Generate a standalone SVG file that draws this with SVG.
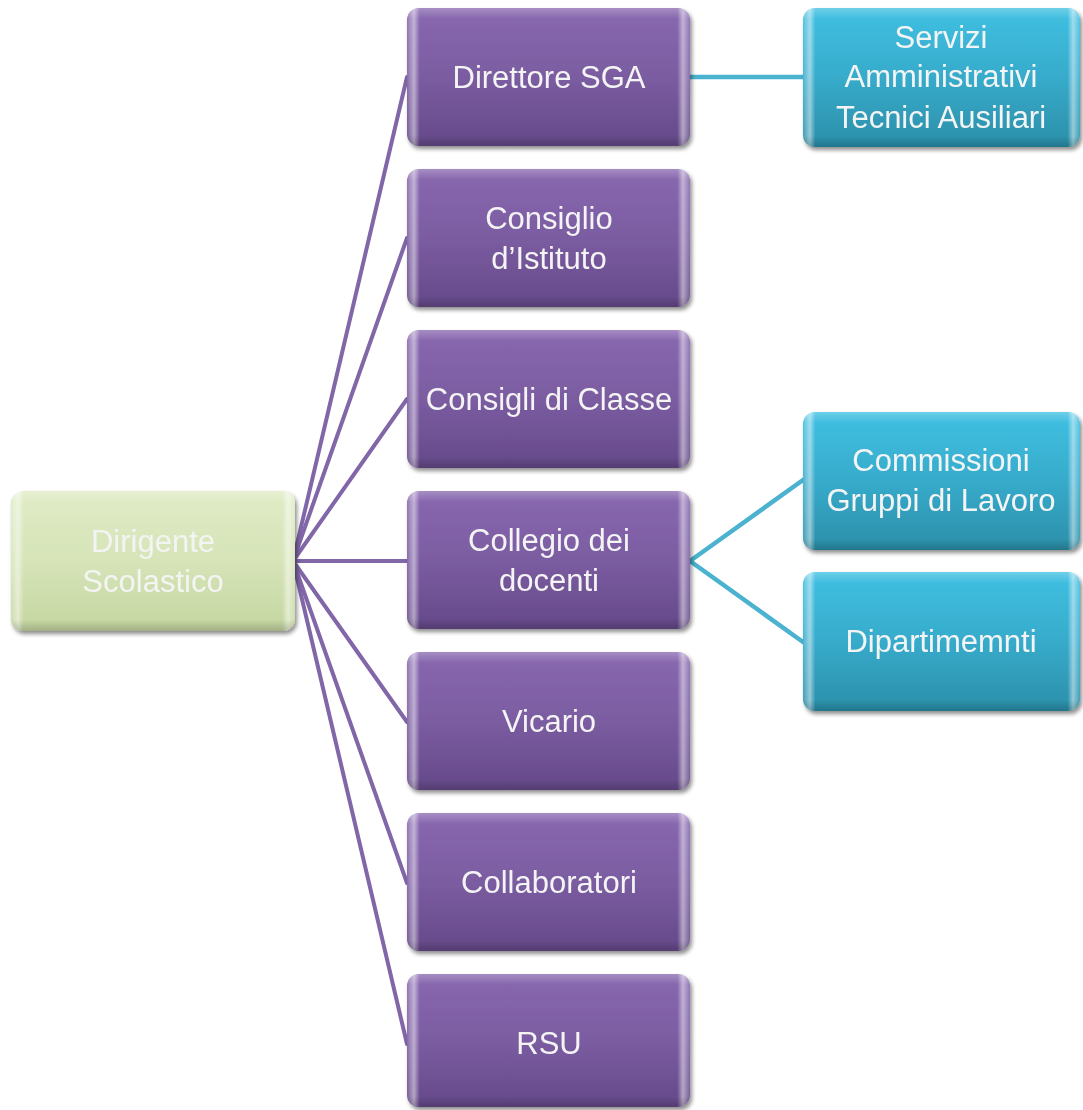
<svg xmlns="http://www.w3.org/2000/svg" width="1083" height="1110" viewBox="0 0 1083 1110">
<defs>
<linearGradient id="gPurple" x1="0" y1="0" x2="0" y2="1">
<stop offset="0" stop-color="#8968b0"/><stop offset="0.5" stop-color="#7b5ca1"/><stop offset="1" stop-color="#654989"/>
</linearGradient>
<linearGradient id="gBlue" x1="0" y1="0" x2="0" y2="1">
<stop offset="0" stop-color="#40c0e2"/><stop offset="0.5" stop-color="#37abcb"/><stop offset="1" stop-color="#2b8fa9"/>
</linearGradient>
<linearGradient id="gGreen" x1="0" y1="0" x2="0" y2="1">
<stop offset="0" stop-color="#e0ecc6"/><stop offset="0.5" stop-color="#d6e4b8"/><stop offset="1" stop-color="#c5d6a0"/>
</linearGradient>
<linearGradient id="gEdge" x1="0" y1="0" x2="1" y2="0">
<stop offset="0" stop-color="#fff" stop-opacity="0.1"/>
<stop offset="0.025" stop-color="#fff" stop-opacity="0.5"/>
<stop offset="0.045" stop-color="#fff" stop-opacity="0"/>
<stop offset="0.955" stop-color="#fff" stop-opacity="0"/>
<stop offset="0.975" stop-color="#fff" stop-opacity="0.5"/>
<stop offset="1" stop-color="#fff" stop-opacity="0.1"/>
</linearGradient>
<linearGradient id="gTop" x1="0" y1="0" x2="0" y2="1">
<stop offset="0" stop-color="#fff" stop-opacity="0.25"/>
<stop offset="0.08" stop-color="#fff" stop-opacity="0"/>
<stop offset="0.92" stop-color="#000" stop-opacity="0"/>
<stop offset="1" stop-color="#000" stop-opacity="0.18"/>
</linearGradient>
<filter id="sh" x="-10%" y="-10%" width="125%" height="130%">
<feGaussianBlur in="SourceAlpha" stdDeviation="2"/>
<feOffset dx="2" dy="3" result="b"/>
<feComponentTransfer><feFuncA type="linear" slope="0.45"/></feComponentTransfer>
<feMerge><feMergeNode/><feMergeNode in="SourceGraphic"/></feMerge>
</filter>
</defs>
<style>
.box{filter:url(#sh)}
.purple{fill:url(#gPurple)}
.blue{fill:url(#gBlue)}
.green{fill:url(#gGreen)}
.edge{fill:url(#gEdge)}
.top{fill:url(#gTop)}
.t{font-family:"Liberation Sans",Arial,sans-serif;font-size:31px;fill:#f4f4f4;text-anchor:middle}
.lp{stroke:#8166a8;stroke-width:4;fill:none;stroke-linecap:round}
.lb{stroke:#4bb3cf;stroke-width:4.5;fill:none;stroke-linecap:round}
</style>
<g id="connectors">
<line class="lp" x1="293" y1="561" x2="407" y2="77"/>
<line class="lp" x1="293" y1="561" x2="407" y2="238"/>
<line class="lp" x1="293" y1="561" x2="407" y2="399"/>
<line class="lp" x1="293" y1="561" x2="407" y2="561"/>
<line class="lp" x1="293" y1="561" x2="407" y2="722"/>
<line class="lp" x1="293" y1="561" x2="407" y2="883"/>
<line class="lp" x1="293" y1="561" x2="407" y2="1044"/>
<line class="lb" x1="690" y1="77" x2="803" y2="77"/>
<line class="lb" x1="690" y1="561" x2="803" y2="480"/>
<line class="lb" x1="690" y1="561" x2="803" y2="642"/>
</g>
<g id="n-dirigente" class="box">
<rect class="green" x="11" y="491" width="284" height="140" rx="12"/>
<rect class="edge" x="11" y="491" width="284" height="140" rx="12"/>
<rect class="top" x="11" y="491" width="284" height="140" rx="12"/>
<text class="t" x="153" y="552">Dirigente</text>
<text class="t" x="153" y="592">Scolastico</text>
</g>
<g id="n-direttore" class="box">
<rect class="purple" x="407" y="8" width="283" height="138" rx="12"/>
<rect class="edge" x="407" y="8" width="283" height="138" rx="12"/>
<rect class="top" x="407" y="8" width="283" height="138" rx="12"/>
<text class="t" x="549" y="88">Direttore SGA</text>
</g>
<g id="n-consiglio-istituto" class="box">
<rect class="purple" x="407" y="169" width="283" height="138" rx="12"/>
<rect class="edge" x="407" y="169" width="283" height="138" rx="12"/>
<rect class="top" x="407" y="169" width="283" height="138" rx="12"/>
<text class="t" x="549" y="229">Consiglio</text>
<text class="t" x="549" y="269">d’Istituto</text>
</g>
<g id="n-consigli-classe" class="box">
<rect class="purple" x="407" y="330" width="283" height="138" rx="12"/>
<rect class="edge" x="407" y="330" width="283" height="138" rx="12"/>
<rect class="top" x="407" y="330" width="283" height="138" rx="12"/>
<text class="t" x="549" y="410">Consigli di Classe</text>
</g>
<g id="n-collegio" class="box">
<rect class="purple" x="407" y="491" width="283" height="138" rx="12"/>
<rect class="edge" x="407" y="491" width="283" height="138" rx="12"/>
<rect class="top" x="407" y="491" width="283" height="138" rx="12"/>
<text class="t" x="549" y="551">Collegio dei</text>
<text class="t" x="549" y="591">docenti</text>
</g>
<g id="n-vicario" class="box">
<rect class="purple" x="407" y="652" width="283" height="138" rx="12"/>
<rect class="edge" x="407" y="652" width="283" height="138" rx="12"/>
<rect class="top" x="407" y="652" width="283" height="138" rx="12"/>
<text class="t" x="549" y="732">Vicario</text>
</g>
<g id="n-collaboratori" class="box">
<rect class="purple" x="407" y="813" width="283" height="138" rx="12"/>
<rect class="edge" x="407" y="813" width="283" height="138" rx="12"/>
<rect class="top" x="407" y="813" width="283" height="138" rx="12"/>
<text class="t" x="549" y="893">Collaboratori</text>
</g>
<g id="n-rsu" class="box">
<rect class="purple" x="407" y="974" width="283" height="133" rx="12"/>
<rect class="edge" x="407" y="974" width="283" height="133" rx="12"/>
<rect class="top" x="407" y="974" width="283" height="133" rx="12"/>
<text class="t" x="549" y="1054">RSU</text>
</g>
<g id="n-servizi" class="box">
<rect class="blue" x="803" y="8" width="277" height="139" rx="12"/>
<rect class="edge" x="803" y="8" width="277" height="139" rx="12"/>
<rect class="top" x="803" y="8" width="277" height="139" rx="12"/>
<text class="t" x="941" y="48">Servizi</text>
<text class="t" x="941" y="87">Amministrativi</text>
<text class="t" x="941" y="128">Tecnici Ausiliari</text>
</g>
<g id="n-commissioni" class="box">
<rect class="blue" x="803" y="412" width="277" height="138" rx="12"/>
<rect class="edge" x="803" y="412" width="277" height="138" rx="12"/>
<rect class="top" x="803" y="412" width="277" height="138" rx="12"/>
<text class="t" x="941" y="471">Commissioni</text>
<text class="t" x="941" y="511">Gruppi di Lavoro</text>
</g>
<g id="n-dipartimenti" class="box">
<rect class="blue" x="803" y="572" width="277" height="139" rx="12"/>
<rect class="edge" x="803" y="572" width="277" height="139" rx="12"/>
<rect class="top" x="803" y="572" width="277" height="139" rx="12"/>
<text class="t" x="941" y="652">Dipartimemnti</text>
</g>
</svg>
